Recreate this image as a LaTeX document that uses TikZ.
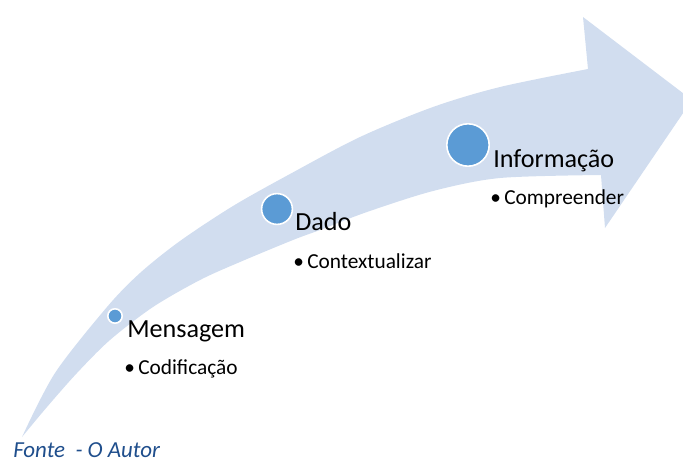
\documentclass[tikz,border=0pt]{standalone}
\usepackage{fontspec}
\setmainfont{Carlito}
\definecolor{arrowfill}{RGB}{209,221,239}
\definecolor{dotblue}{RGB}{91,155,213}
\definecolor{srcblue}{RGB}{31,78,140}
\begin{document}
\begin{tikzpicture}[x=0.75pt,y=-0.75pt,
  dot/.style={circle, fill=dotblue, draw=white, line width=1.2pt, inner sep=0pt},
  title/.style={anchor=base west, inner sep=0pt, font=\fontsize{19.6}{21}\selectfont},
  item/.style={anchor=base west, inner sep=0pt, font=\fontsize{16}{17}\selectfont},
  source/.style={anchor=base west, inner sep=0pt, text=srcblue, font=\fontsize{17.2}{18}\selectfont\itshape},
]
\useasboundingbox (0,0) rectangle (683,461);
\begin{scope}
\clip (0,0) rectangle (683,461);
\fill[arrowfill] plot[smooth, tension=0.5] coordinates {(22,437) (55,373) (107,307) (140,273) (180,241) (233,206) (290,174) (360,137) (433,107) (500,87) (588,69)}
  -- (583,17) -- (692,100) -- (605,228)
  -- plot[smooth, tension=0.5] coordinates {(601,175) (500,178) (433,191) (367,212) (320,230) (293,240) (240,262) (200,280) (153,307) (110,340) (77,373) (47,407) (22,437)} -- cycle;
\end{scope}
\node[dot, minimum size=10.8pt] (d1) at (115,316) {};
\node[dot, minimum size=23.1pt] (d2) at (277,209) {};
\node[dot, minimum size=31.8pt] (d3) at (468,145) {};
\node[title] (t1) at (127,337) {Mensagem};
\node[title] (t2) at (295,230) {Dado};
\node[title] (t3) at (493,167) {Informação};
\node[item] (i1) at (120.7,374) {\makebox[13pt]{•}Codificação};
\node[item] (i2) at (289.7,268) {\makebox[13pt]{•}Contextualizar};
\node[item] (i3) at (486.7,204) {\makebox[13pt]{•}Compreender};
\node[source] (src) at (13,457) {Fonte\ \ - O Autor};
\end{tikzpicture}
\end{document}
